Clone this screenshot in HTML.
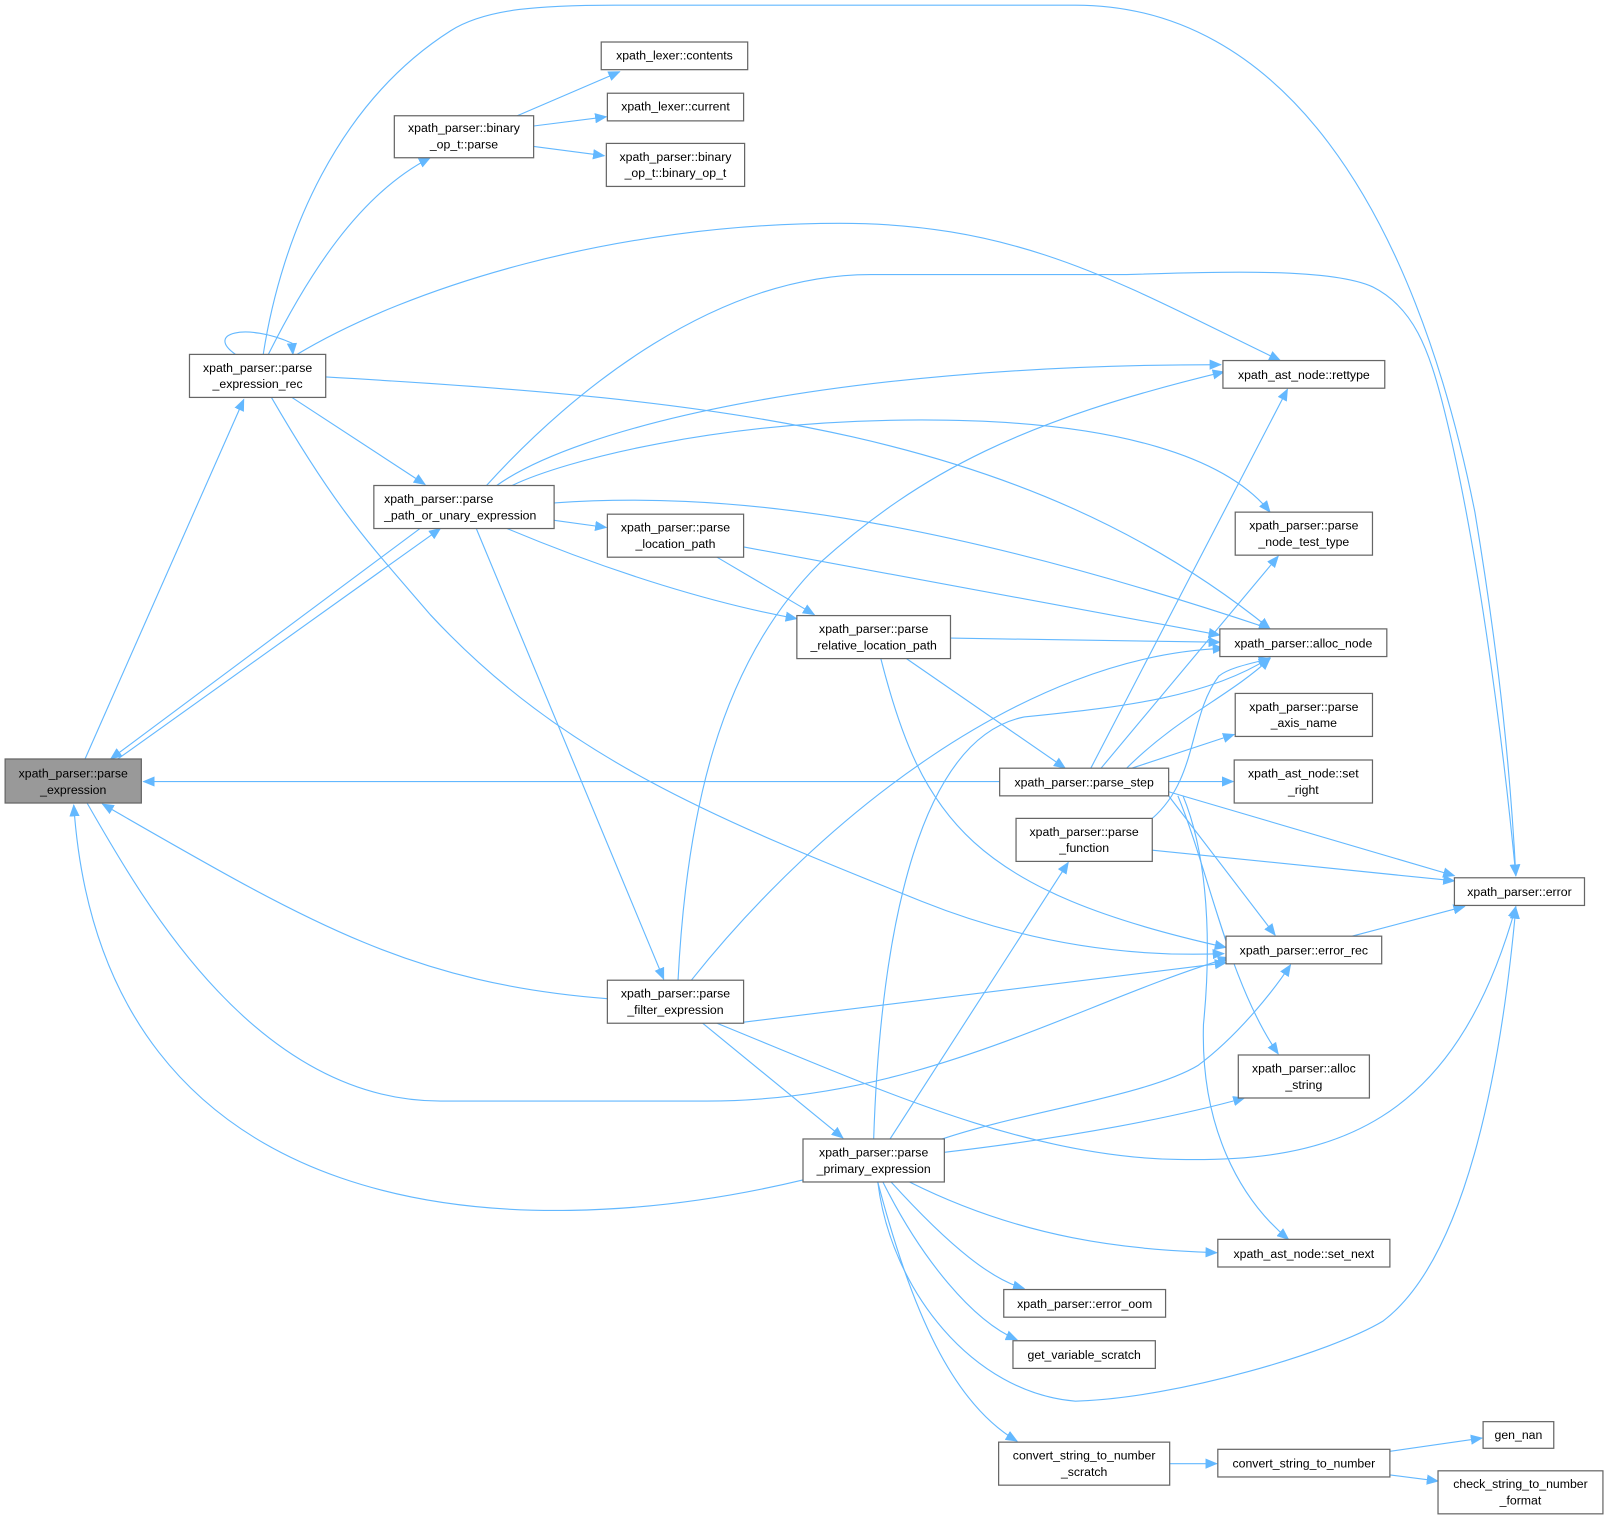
<!DOCTYPE html>
<html><head><meta charset="utf-8"><style>
html,body{margin:0;padding:0;background:#fff;}
svg{display:block;}
text{font-family:"Liberation Sans",Arial,sans-serif;font-size:12px;fill:#000;}
.n{fill:#fff;stroke:#666;stroke-width:1.2;}
.e{fill:none;stroke:#63b8ff;stroke-width:1.1;}
</style></head><body>
<svg width="1606" height="1520" viewBox="0 0 1568 1484" xmlns="http://www.w3.org/2000/svg">
<defs><marker id="a" markerWidth="12" markerHeight="10" refX="11" refY="5" orient="auto" markerUnits="userSpaceOnUse"><path d="M0,0 L12,5 L0,10 Z" fill="#63b8ff"/></marker></defs>
<g class="e" marker-end="url(#a)">
<path d="M83,741 L238,390"/>
<path d="M115,741 L430,516"/>
<path d="M410,516 L108,741"/>
<path d="M976,763 L140,763"/>
<path d="M593,975 C400,960 300,900 100,785"/>
<path d="M784,1152 C500,1220 100,1200 72,786"/>
<path d="M85,784 C140,880 250,1075 430,1075 L690,1075 C900,1075 1050,980 1200,935"/>
<path d="M230,346 C200,325 240,315 285,335 L286,346"/>
<path d="M262,346 C300,270 350,190 420,154"/>
<path d="M257,346 C275,230 330,100 440,30 C475,8 530,5 600,5 L1050,5 C1250,5 1380,200 1440,500 C1465,650 1475,760 1480,855"/>
<path d="M290,346 C400,280 600,218 820,218 C1000,218 1100,280 1250,352"/>
<path d="M318,368 C700,390 1000,420 1240,614"/>
<path d="M285,388 L415,473"/>
<path d="M265,388 C330,500 360,530 420,600 C550,740 700,800 900,880 C1000,920 1100,935 1195,931"/>
<path d="M505,113 L605,70"/>
<path d="M521,123 L592,114"/>
<path d="M521,143 L590,152"/>
<path d="M475,474 C560,380 700,268 850,268 L1100,268 C1200,265 1300,262 1340,280 C1380,300 1395,340 1410,400 C1440,520 1465,700 1480,855"/>
<path d="M485,474 C560,420 800,356 1192,356"/>
<path d="M500,474 C550,450 700,410 900,410 C1100,410 1200,450 1240,500"/>
<path d="M541,491 C700,480 900,500 1240,614"/>
<path d="M541,508 L592,515"/>
<path d="M495,516 C600,560 700,590 778,604"/>
<path d="M465,516 L648,956"/>
<path d="M700,544 L795,600"/>
<path d="M726,534 L1191,620"/>
<path d="M928,623 L1191,627"/>
<path d="M885,643 L1040,750"/>
<path d="M860,643 C900,800 950,870 1197,925"/>
<path d="M1065,750 L1257,380"/>
<path d="M1075,750 L1248,543"/>
<path d="M1100,750 C1150,700 1200,680 1240,643"/>
<path d="M1105,750 L1205,717"/>
<path d="M1141,763 L1204,763"/>
<path d="M1141,773 L1420,855"/>
<path d="M1141,777 L1245,913"/>
<path d="M1150,777 C1180,850 1200,960 1248,1029"/>
<path d="M1155,777 C1185,850 1180,950 1175,1000 C1172,1100 1210,1170 1258,1210"/>
<path d="M1125,799 C1170,760 1160,700 1190,660 C1200,652 1220,648 1240,643"/>
<path d="M1125,830 L1420,860"/>
<path d="M1320,914 L1430,885"/>
<path d="M662,957 C670,800 700,650 800,550 C900,460 1000,410 1195,363"/>
<path d="M675,957 C800,800 1000,640 1195,633"/>
<path d="M726,998 L1197,940"/>
<path d="M686,999 L823,1111"/>
<path d="M700,999 C850,1060 1000,1130 1150,1132 C1300,1135 1420,1100 1480,885"/>
<path d="M853,1112 C860,900 900,720 1000,700 C1100,690 1180,680 1240,642"/>
<path d="M869,1112 L1043,842"/>
<path d="M920,1112 C1000,1085 1120,1070 1170,1040 C1210,1010 1245,965 1260,942"/>
<path d="M922,1125 C1050,1110 1150,1090 1215,1072"/>
<path d="M888,1154 C1000,1210 1100,1220 1188,1223"/>
<path d="M870,1154 C930,1220 970,1250 1000,1258"/>
<path d="M862,1154 C900,1230 950,1290 993,1308"/>
<path d="M857,1154 C890,1280 930,1370 993,1407"/>
<path d="M857,1154 C870,1260 950,1360 1050,1368 C1150,1365 1300,1320 1350,1290 C1430,1230 1465,1050 1480,886"/>
<path d="M1142,1429 L1188,1429"/>
<path d="M1357,1417 L1447,1404"/>
<path d="M1357,1440 L1404,1446"/>
</g>
<g>
<rect x="5" y="741" width="133" height="43" style="fill:#999;stroke:#666;stroke-width:1.2"/>
<text x="71.5" y="759" text-anchor="middle">xpath_parser::parse</text><text x="71.5" y="775" text-anchor="middle">_expression</text>
<rect class="n" x="185" y="346" width="133" height="42"/><text x="251.5" y="363" text-anchor="middle">xpath_parser::parse</text><text x="251.5" y="379" text-anchor="middle">_expression_rec</text>
<rect class="n" x="385" y="113" width="136" height="41"/><text x="453" y="129" text-anchor="middle">xpath_parser::binary</text><text x="453" y="145" text-anchor="middle">_op_t::parse</text>
<rect class="n" x="587" y="41" width="143" height="27"/><text x="658.5" y="58" text-anchor="middle">xpath_lexer::contents</text>
<rect class="n" x="593" y="91" width="133" height="27"/><text x="659.5" y="108" text-anchor="middle">xpath_lexer::current</text>
<rect class="n" x="592" y="140" width="135" height="42"/><text x="659.5" y="157" text-anchor="middle">xpath_parser::binary</text><text x="659.5" y="173" text-anchor="middle">_op_t::binary_op_t</text>
<rect class="n" x="365" y="474" width="176" height="42"/><text x="375" y="491">xpath_parser::parse</text><text x="375" y="507">_path_or_unary_expression</text>
<rect class="n" x="593" y="502" width="133" height="42"/><text x="659.5" y="519" text-anchor="middle">xpath_parser::parse</text><text x="659.5" y="535" text-anchor="middle">_location_path</text>
<rect class="n" x="778" y="601" width="150" height="42"/><text x="853" y="618" text-anchor="middle">xpath_parser::parse</text><text x="853" y="634" text-anchor="middle">_relative_location_path</text>
<rect class="n" x="1194" y="352" width="158" height="27"/><text x="1273" y="370" text-anchor="middle">xpath_ast_node::rettype</text>
<rect class="n" x="1206" y="500" width="134" height="42"/><text x="1273" y="517" text-anchor="middle">xpath_parser::parse</text><text x="1273" y="533" text-anchor="middle">_node_test_type</text>
<rect class="n" x="1191" y="614" width="163" height="27"/><text x="1272.5" y="632" text-anchor="middle">xpath_parser::alloc_node</text>
<rect class="n" x="1206" y="677" width="134" height="42"/><text x="1273" y="694" text-anchor="middle">xpath_parser::parse</text><text x="1273" y="710" text-anchor="middle">_axis_name</text>
<rect class="n" x="1205" y="742" width="135" height="42"/><text x="1272.5" y="759" text-anchor="middle">xpath_ast_node::set</text><text x="1272.5" y="775" text-anchor="middle">_right</text>
<rect class="n" x="976" y="750" width="165" height="27"/><text x="1058.5" y="768" text-anchor="middle">xpath_parser::parse_step</text>
<rect class="n" x="992" y="799" width="133" height="42"/><text x="1058.5" y="816" text-anchor="middle">xpath_parser::parse</text><text x="1058.5" y="832" text-anchor="middle">_function</text>
<rect class="n" x="1420" y="857" width="127" height="27"/><text x="1483.5" y="875" text-anchor="middle">xpath_parser::error</text>
<rect class="n" x="1197" y="914" width="152" height="27"/><text x="1273" y="932" text-anchor="middle">xpath_parser::error_rec</text>
<rect class="n" x="593" y="957" width="133" height="42"/><text x="659.5" y="974" text-anchor="middle">xpath_parser::parse</text><text x="659.5" y="990" text-anchor="middle">_filter_expression</text>
<rect class="n" x="1209" y="1030" width="128" height="42"/><text x="1273" y="1047" text-anchor="middle">xpath_parser::alloc</text><text x="1273" y="1063" text-anchor="middle">_string</text>
<rect class="n" x="784" y="1112" width="138" height="42"/><text x="853" y="1129" text-anchor="middle">xpath_parser::parse</text><text x="853" y="1145" text-anchor="middle">_primary_expression</text>
<rect class="n" x="1189" y="1210" width="168" height="27"/><text x="1273" y="1228" text-anchor="middle">xpath_ast_node::set_next</text>
<rect class="n" x="980" y="1259" width="158" height="27"/><text x="1059" y="1277" text-anchor="middle">xpath_parser::error_oom</text>
<rect class="n" x="989" y="1309" width="139" height="27"/><text x="1058.5" y="1327" text-anchor="middle">get_variable_scratch</text>
<rect class="n" x="975" y="1408" width="167" height="42"/><text x="1058.5" y="1425" text-anchor="middle">convert_string_to_number</text><text x="1058.5" y="1441" text-anchor="middle">_scratch</text>
<rect class="n" x="1189" y="1415" width="168" height="27"/><text x="1273" y="1433" text-anchor="middle">convert_string_to_number</text>
<rect class="n" x="1448" y="1388" width="69" height="26"/><text x="1482.5" y="1405" text-anchor="middle">gen_nan</text>
<rect class="n" x="1404" y="1436" width="161" height="42"/><text x="1484.5" y="1453" text-anchor="middle">check_string_to_number</text><text x="1484.5" y="1469" text-anchor="middle">_format</text>
</g>
</svg>
</body></html>
